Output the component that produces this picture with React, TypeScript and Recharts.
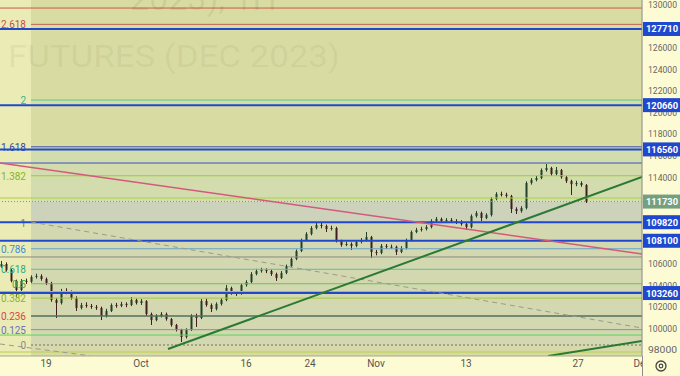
import React from 'react'
import { ComposedChart, Bar, XAxis, YAxis, CartesianGrid, ReferenceLine, ReferenceArea } from 'recharts'

// hourly candles sampled down, RTS futures Dec 2023
const OPENS = [
  105700, 105950, 105390, 104380, 103540, 104380, 104300, 104750, 104840, 104560,
  104190, 102620, 102340, 103450, 103360, 102800, 101880, 102150, 102060, 101970,
  101880, 101130, 101600, 102150, 102060, 102250, 102150, 102620, 102340, 102520,
  101320, 100760, 101130, 101320, 100850, 100300, 99840, 99190, 99840, 101130,
  100950, 102520, 102150, 101780, 102250, 102620, 103730, 103260, 103200, 104000,
  104280, 105020, 105300, 105390, 105300, 105020, 104650, 105120, 105760, 106410,
  107150, 108170, 108730, 109280, 109560, 109470, 109190, 109280, 108080, 107710,
  107800, 107620, 107990, 108170, 108450, 107060, 106970, 107620, 107520, 107540,
  107060, 107430, 108170, 108910, 109100, 109190, 109370, 109930, 110120, 109930,
  110020, 109930, 109840, 109650, 109370, 110390, 110670, 110210, 110490, 111970,
  112430, 112380, 112250, 111040, 110850, 111130, 113450, 113730, 113910, 114650,
  114840, 114280, 114650, 113990, 113630, 113340, 113450, 113260,
]
const HIGHS = [
  106230, 106100, 105500, 104500, 104550, 104600, 104900, 105050, 105000, 104700,
  104300, 102800, 103650, 103700, 103500, 102950, 102350, 102400, 102250, 102150,
  102000, 101800, 102300, 102350, 102450, 102400, 102890, 102750, 102700, 102600,
  101450, 101300, 101500, 101450, 100950, 100400, 99950, 100000, 101300, 101350,
  102700, 102750, 102300, 102400, 102800, 104000, 103850, 103450, 104150, 104450,
  105200, 105500, 105600, 105550, 105450, 105150, 105300, 105900, 106550, 107300,
  108300, 108900, 109450, 109840, 109750, 109600, 109500, 109400, 108200, 108000,
  107950, 108150, 108350, 108910, 108550, 107250, 107800, 107800, 107750, 107650,
  107600, 108300, 109050, 109300, 109400, 109550, 110100, 110300, 110250, 110200,
  110200, 110100, 110000, 109800, 110550, 110850, 110800, 110650, 112150, 112600,
  112650, 112550, 112350, 111200, 111300, 113600, 113900, 114100, 114800, 115210,
  114950, 114930, 114750, 114100, 113750, 113650, 113600, 113350,
]
const LOWS = [
  105600, 105250, 104250, 102890, 103400, 104100, 104200, 104600, 104400, 104000,
  102450, 100950, 102200, 103150, 102650, 101600, 101750, 101900, 101800, 101700,
  100760, 101000, 101500, 101900, 101950, 101950, 102050, 102200, 102150, 101150,
  100300, 100650, 101000, 100700, 100150, 99700, 98730, 99050, 99750, 100120,
  100850, 102000, 101500, 101650, 102100, 102500, 103100, 103000, 103100, 103850,
  104150, 104900, 105150, 105100, 104850, 104380, 104550, 105000, 105650, 106300,
  107050, 108050, 108600, 109150, 109250, 108910, 109050, 107950, 107550, 107600,
  107250, 107500, 107850, 108050, 106510, 106750, 106850, 107350, 107350, 106780,
  106950, 107300, 108050, 108800, 108950, 109050, 109250, 109800, 109750, 109800,
  109800, 109650, 109500, 109100, 109250, 110250, 109930, 110100, 110350, 111850,
  112200, 112050, 110670, 110580, 110700, 111000, 113300, 113600, 113800, 114500,
  114100, 114150, 113850, 113450, 112340, 113150, 113100, 111600,
]
const CLOSES = [
  105950, 105390, 104380, 103540, 104380, 104300, 104750, 104840, 104560, 104190,
  102620, 102340, 103450, 103360, 102800, 101880, 102150, 102060, 101970, 101880,
  101130, 101600, 102150, 102060, 102250, 102150, 102620, 102340, 102520, 101320,
  100760, 101130, 101320, 100850, 100300, 99840, 99190, 99840, 101130, 100950,
  102520, 102150, 101780, 102250, 102620, 103730, 103260, 103200, 104000, 104280,
  105020, 105300, 105390, 105300, 105020, 104650, 105120, 105760, 106410, 107150,
  108170, 108730, 109280, 109560, 109470, 109190, 109280, 108080, 107710, 107800,
  107620, 107990, 108170, 108450, 107060, 106970, 107620, 107520, 107540, 107060,
  107430, 108170, 108910, 109100, 109190, 109370, 109930, 110120, 109930, 110020,
  109930, 109840, 109650, 109370, 110390, 110670, 110210, 110490, 111970, 112430,
  112380, 112250, 111040, 110850, 111130, 113450, 113730, 113910, 114650, 114840,
  114280, 114650, 113990, 113630, 113340, 113450, 113260, 111730,
]

const DATE_TICKS = [8.8, 27.8, 48.8, 61.6, 74.8, 92.8, 115.2, 128]
const DATE_LABELS = ['19', 'Oct', '16', '24', 'Nov', '13', '27', 'Dec']

const PRICE_GRID = [98000, 100000, 102000, 104000, 106000, 108000, 110000, 112000, 114000, 116000, 118000, 120000, 122000, 124000, 126000, 128000, 130000]
const PRICE_TICKS = [98000, 100000, 102000, 104000, 106000, 114000, 116000, 118000, 120000, 122000, 124000, 126000, 130000]
const BLUE_LEVELS = [127710, 120660, 116560, 109820, 108100, 103260]
const LAST_PRICE = 111730

const FIB_NAMES = ['2.618', '2', '1.618', '1.382', '1', '0.786', '0.618', '0.5', '0.382', '0.236', '0.125', '0']
const FIB_PRICES = [128140, 121130, 116800, 114120, 109790, 107360, 105460, 104120, 102790, 101130, 99870, 98450]
const FIB_START = 5.8

const EXTRA_LEVELS = [129650, 115300, 112060, 106600, 103400, 99370, 97800]

const RED_TREND = [[-0.4, 115300], [128, 106880]]
const GREEN_TREND = [[33.2, 98080], [128, 114000]]
const GREEN_TREND_2 = [[109.2, 97430], [128, 98820]]
const DASH_TREND = [[5.8, 109840], [128, 100020]]
const DASH_TREND_2 = [[-0.4, 98540], [17.6, 97450]]

const BAND_TOP = [130395, 116560, 111730, 109820, 98450]
const BAND_BOTTOM = [116560, 111730, 109820, 98450, 97430]

// styles
const FIB_LINE_COLORS = ['#c0624e', '#52c98c', '#3c4ca8', '#9bcb3a', '#8a8a8a', '#66a3cc', '#52c4a2', '#66c656', '#a6ca3e', '#50705f', '#8e8cb0', '#6f6f6f']
const FIB_TEXT_COLORS = ['#c24f4a', '#34b487', '#38479a', '#84b52a', '#7a7a7a', '#3b8ed4', '#2aac8c', '#48ad4c', '#8bb529', '#cf4848', '#7070c0', '#8a8a8a']
const EXTRA_COLORS = ['#cc5a4a', '#3b50c8', '#a8d24c', '#8a8a80', '#7db9df', '#57d860', '#b8d244']
const BAND_FILLS = ['#d9dca2', '#d2dcac', '#cdd2bb', '#d3d8b0', '#d7daa8']
const BLUE = '#1f48cf'
const UP = '#22402a'
const DOWN = '#3e1e1e'

const rows = CLOSES.map((c, i) => ({
  i,
  open: OPENS[i],
  high: HIGHS[i],
  low: LOWS[i],
  close: c,
  range: [LOWS[i], HIGHS[i]],
}))

const seg = (s: number[][]) => [{ x: s[0][0], y: s[0][1] }, { x: s[1][0], y: s[1][1] }]

function Candle(props: any) {
  const { x, y, width, height, payload } = props
  const top = Math.min(y, y + height)
  const h = Math.abs(height)
  const { open, close, high, low } = payload
  const k = h / (high - low || 1)
  const yo = top + (high - open) * k
  const yc = top + (high - close) * k
  const color = close >= open ? UP : DOWN
  const cx = x + width / 2
  return (
    <g>
      <line x1={cx} x2={cx} y1={top} y2={top + h} stroke={color} strokeWidth={1} />
      <rect x={x} y={Math.min(yo, yc)} width={width} height={Math.max(1, Math.abs(yc - yo))} fill={color} />
    </g>
  )
}

function DateTick(props: any) {
  const { x, y, payload } = props
  const idx = DATE_TICKS.indexOf(payload.value)
  return (
    <svg x={0} y={0} width={642} height={376} overflow="hidden">
      <text x={x} y={y + 11} textAnchor="middle" fill="#555" fontSize={10} fontFamily="Roboto, sans-serif">
        {DATE_LABELS[idx]}
      </text>
    </svg>
  )
}

function PriceTick(props: any) {
  const { x, y, payload } = props
  const v = payload.value
  const boxed = BLUE_LEVELS.includes(v) || v === LAST_PRICE
  if (boxed) {
    return (
      <g>
        <rect x={x - 5} y={y - 7} width={40} height={14} fill={v === LAST_PRICE ? '#74a07f' : BLUE} />
        <text x={x - 2} y={y + 3.5} fill="#fff" fontSize={9.5} fontWeight="bold" fontFamily="Roboto, sans-serif" textLength={32} lengthAdjust="spacingAndGlyphs">
          {v}
        </text>
      </g>
    )
  }
  return (
    <text x={x} y={y + 3.5} fill="#666" fontSize={9.5} fontFamily="Roboto, sans-serif" textLength={29} lengthAdjust="spacingAndGlyphs">
      {v}
    </text>
  )
}

function fibLabel(name: string, color: string) {
  return (p: any) => {
    const vb = p.viewBox || {}
    return (
      <text x={vb.x - 5} y={vb.y + 4} textAnchor="end" fill={color} fontSize={10} fontFamily="Roboto, sans-serif">
        {name}
      </text>
    )
  }
}

export default function App() {
  return (
    <div style={{ width: 680, height: 376, position: 'relative', background: '#fdfbd3', overflow: 'hidden' }}>
      <style>{'body{margin:0}'}</style>
      <ComposedChart width={680} height={376} data={rows} margin={{ top: 0, right: 0, bottom: 0, left: 0 }}>
        <XAxis
          dataKey="i"
          type="number"
          domain={[-0.4, 128]}
          allowDataOverflow
          ticks={DATE_TICKS}
          interval={0}
          height={20}
          tickSize={0}
          tickMargin={0}
          tick={<DateTick />}
          axisLine={{ stroke: '#a9a98a' }}
          tickLine={false}
        />
        <YAxis
          orientation="right"
          domain={[97430, 130395]}
          allowDataOverflow
          ticks={[...PRICE_TICKS, ...BLUE_LEVELS, LAST_PRICE]}
          interval={0}
          width={38}
          tickSize={0}
          tickMargin={6}
          tick={<PriceTick />}
          axisLine={{ stroke: '#8c8c8c' }}
          tickLine={false}
        />
        {BAND_TOP.map((t, k) => (
          <ReferenceArea key={'b' + k} y1={BAND_BOTTOM[k]} y2={t} fill={BAND_FILLS[k]} fillOpacity={1} stroke="none" ifOverflow="hidden" />
        ))}
        <ReferenceArea x1={-0.4} x2={FIB_START} fill="#ebebb6" fillOpacity={1} stroke="none" ifOverflow="hidden" />
        <CartesianGrid horizontalValues={PRICE_GRID} verticalValues={DATE_TICKS} stroke="#e4e5c4" strokeOpacity={0.7} />
        {EXTRA_LEVELS.map((v, k) => (
          <ReferenceLine key={'e' + k} y={v} stroke={EXTRA_COLORS[k]} strokeWidth={1} ifOverflow="hidden" />
        ))}
        {FIB_PRICES.map((v, k) => (
          <ReferenceLine
            key={'f' + k}
            segment={[{ x: FIB_START, y: v }, { x: 128, y: v }]}
            stroke={FIB_LINE_COLORS[k]}
            strokeWidth={k === 9 ? 1.5 : 1}
            strokeDasharray={k === 11 ? '2 2' : undefined}
            ifOverflow="hidden"
            label={fibLabel(FIB_NAMES[k], FIB_TEXT_COLORS[k])}
          />
        ))}
        <ReferenceLine y={LAST_PRICE} stroke="#8a8a8a" strokeDasharray="1 2" ifOverflow="hidden" />
        {BLUE_LEVELS.map((v) => (
          <ReferenceLine key={'l' + v} y={v} stroke={BLUE} strokeWidth={2} ifOverflow="hidden" />
        ))}
        <ReferenceLine segment={seg(DASH_TREND)} stroke="#9a9a90" strokeDasharray="5 4" ifOverflow="hidden" />
        <ReferenceLine segment={seg(DASH_TREND_2)} stroke="#9a9a90" strokeDasharray="5 4" ifOverflow="hidden" />
        <ReferenceLine segment={seg(RED_TREND)} stroke="#d35a7c" strokeWidth={1.5} ifOverflow="hidden" />
        <Bar dataKey="range" barSize={2} shape={<Candle />} isAnimationActive={false} />
        <ReferenceLine segment={seg(GREEN_TREND)} stroke="#2a7a35" strokeWidth={2} ifOverflow="hidden" />
        <ReferenceLine segment={seg(GREEN_TREND_2)} stroke="#2a7a35" strokeWidth={2} ifOverflow="hidden" />
      </ComposedChart>
      <svg width={680} height={376} style={{ position: 'absolute', left: 0, top: 0, pointerEvents: 'none' }}>
        <text x={130} y={10} fontSize={34} fontFamily="Roboto, sans-serif" fill="rgba(70,70,20,0.09)">
          2023), 1H
        </text>
        <text x={8} y={67} fontSize={31} fontFamily="Roboto, sans-serif" fill="rgba(70,70,20,0.08)" textLength={332} lengthAdjust="spacingAndGlyphs">
          FUTURES (DEC 2023)
        </text>
        <line x1={642.5} x2={642.5} y1={356} y2={376} stroke="#8c8c8c" />
        <circle cx={661} cy={366} r={5} fill="none" stroke="#444" strokeWidth={1.3} />
        <circle cx={661} cy={366} r={1.8} fill="none" stroke="#444" strokeWidth={1.2} />
      </svg>
    </div>
  )
}
